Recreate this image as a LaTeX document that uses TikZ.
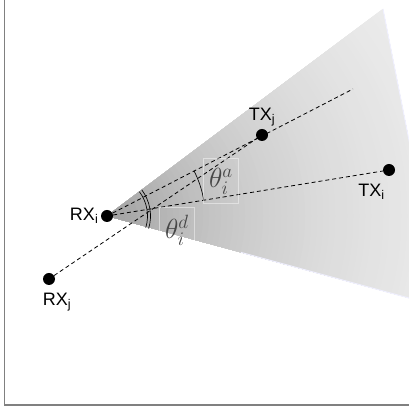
\documentclass[tikz,border=0pt]{standalone}
\usepackage{fontspec}
\setsansfont{Liberation Sans}
\usetikzlibrary{positioning, calc}

\begin{document}
\begin{tikzpicture}[
  x=0.75pt, y=0.75pt,
  dot/.style ={circle, fill=black, inner sep=0pt, minimum size=9pt},
  lbl/.style ={font=\sffamily\fontsize{13.5}{16}\selectfont, inner sep=0pt},
  ang/.style ={text=black!72, font=\fontsize{20.74}{24}\selectfont, inner sep=0pt,
               draw=white, draw opacity=0.45, line width=0.4pt,
               minimum width=26pt, minimum height=34pt},
  ray/.style ={dash pattern=on 3pt off 2.2pt, line width=0.6pt},
]
  \useasboundingbox (0,0) rectangle (409,409);
  \draw[black!50, line width=0.8pt] (4.5,409) -- (4.5,4) -- (409,4);

  % beam of RX_i, fading out in rings
  \coordinate (o)       at (107,193);
  \coordinate (beamtop) at (383,400);
  \coordinate (beambot) at (442,102);
  \begin{scope}
    \clip (o) -- (beamtop) -- (beambot) -- cycle;
    \foreach \d in {366,360,...,0} {
      \pgfmathsetmacro\shadeval{38*exp(-\d/220)}
      \fill[black!\shadeval] (o) circle (\d);
    }
  \end{scope}
  \draw[blue!6, line width=0.7pt] ($(o)!0.4!(beambot)$) -- (beambot) -- (beamtop);

  \node[dot] (rxi) at (o) {};
  \node[dot] (rxj) at (49,130) {};
  \node[dot] (txj) at (262,274) {};
  \node[dot] (txi) at (389,239) {};
  \coordinate (txjfar) at (353,320);

  \draw[ray] (rxj) -- (txj);
  \draw[ray] (rxi) -- (txjfar);
  \draw[ray] (rxi) -- (txi);

  % angles
  \draw[line width=0.5pt] ([shift={(9.3:98)}]o) arc[start angle=9.3, end angle=27.6, radius=98];
  \foreach \r in {40.5,43.5}
    \draw[line width=0.5pt] ([shift={(-16.8:\r)}]o) arc[start angle=-16.8, end angle=36.9, radius=\r];

  \node[ang] (tha) at (221,228) {$\theta^a_i$};
  \node[ang] (thd) at (177,179) {$\theta^d_i$};

  \node[lbl, left=1.5pt of rxi]            (rxilbl) {RX\textsubscript{i}};
  \node[lbl, below=6pt of rxj, xshift=6pt]  (rxjlbl) {RX\textsubscript{j}};
  \node[lbl, above=1.5pt of txj]           (txjlbl) {TX\textsubscript{j}};
  \node[lbl, below=6pt of txi, xshift=-13pt] (txilbl) {TX\textsubscript{i}};
\end{tikzpicture}
\end{document}
